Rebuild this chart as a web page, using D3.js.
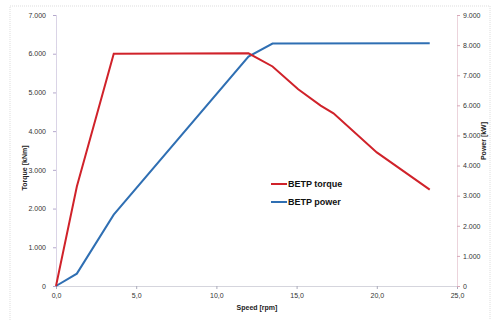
<!DOCTYPE html>
<html><head><meta charset="utf-8">
<script src="https://cdn.jsdelivr.net/npm/d3@7"></script>
<style>
body{margin:0;background:#fff;}
svg{display:block;font-family:"Liberation Sans",Arial,sans-serif;}
</style></head>
<body><svg id="c" width="493" height="320"></svg>
<script>
const torqueSpeed = [0, 1.3, 3.6, 12.0, 13.5, 15.1, 16.5, 17.3, 20.0, 23.3];
const torqueValues = [0, 2570, 6000, 6010, 5670, 5080, 4660, 4460, 3450, 2490];
const powerSpeed = [0, 1.3, 3.6, 12.0, 13.5, 23.3];
const powerValues = [0, 410, 2370, 7620, 8050, 8060];
const xTicks = [0, 5, 10, 15, 20, 25];
const leftTicks = [0, 1000, 2000, 3000, 4000, 5000, 6000, 7000];
const rightTicks = [0, 1000, 2000, 3000, 4000, 5000, 6000, 7000, 8000, 9000];
const seriesNames = ["BETP torque", "BETP power"];
const colors = ["#d0222a", "#2f6fb3"];

const svg = d3.select("#c");
const x = d3.scaleLinear().domain([0, 25]).range([56, 457]);
const yL = d3.scaleLinear().domain([0, 7000]).range([286, 15]);
const yR = d3.scaleLinear().domain([0, 9000]).range([286, 15]);

// faint outer border
svg.append("rect").attr("x", 10).attr("y", 6).attr("width", 480).attr("height", 330)
  .attr("fill", "none").attr("stroke", "#ddd").attr("stroke-dasharray", "1,1");

const fmtK = v => v === 0 ? "0" : d3.format(",")(v).replace(/,/g, ".");
const fmtX = v => d3.format(".1f")(v).replace(".", ",");

function styleAxis(g, col) {
  g.select(".domain").attr("stroke", col).attr("stroke-dasharray", "1,1");
  g.selectAll(".tick line").attr("stroke", col);
  g.selectAll(".tick text").attr("fill", "#333").style("font-size", "7px");
}

const gx = svg.append("g").attr("transform", "translate(0,286)")
  .call(d3.axisBottom(x).tickValues(xTicks).tickFormat(fmtX).tickSize(3).tickSizeOuter(0));
styleAxis(gx, "#aab");
gx.selectAll(".tick text").attr("dy", "0.9em");

const gl = svg.append("g").attr("transform", "translate(56,0)")
  .call(d3.axisLeft(yL).tickValues(leftTicks).tickFormat(fmtK).tickSize(3).tickSizeOuter(0));
styleAxis(gl, "#b4a8cc");
gl.selectAll(".tick text").attr("x", -10);

const gr = svg.append("g").attr("transform", "translate(457,0)")
  .call(d3.axisRight(yR).tickValues(rightTicks).tickFormat(fmtK).tickSize(3).tickSizeOuter(0));
styleAxis(gr, "#d8a8b8");
gr.selectAll(".tick text").attr("x", 6);

// axis titles
svg.append("text").attr("x", 257).attr("y", 310).attr("text-anchor", "middle")
  .style("font-size", "7px").style("font-weight", "bold").attr("fill", "#222").text("Speed [rpm]");
svg.append("text").attr("transform", "translate(27,168) rotate(-90)").attr("text-anchor", "middle")
  .style("font-size", "7px").style("font-weight", "bold").attr("fill", "#222").text("Torque [kNm]");
svg.append("text").attr("transform", "translate(486,141) rotate(-90)").attr("text-anchor", "middle")
  .style("font-size", "7px").style("font-weight", "bold").attr("fill", "#222").text("Power [kW]");

// lines
const lineL = d3.line().x(d => x(d[0])).y(d => yL(d[1]));
const lineR = d3.line().x(d => x(d[0])).y(d => yR(d[1]));
svg.append("path").datum(powerSpeed.map((s, i) => [s, powerValues[i]]))
  .attr("d", lineR).attr("fill", "none").attr("stroke", colors[1]).attr("stroke-width", 2);
svg.append("path").datum(torqueSpeed.map((s, i) => [s, torqueValues[i]]))
  .attr("d", lineL).attr("fill", "none").attr("stroke", colors[0]).attr("stroke-width", 2);

// legend
seriesNames.forEach((n, i) => {
  const yy = 184 + i * 18;
  svg.append("line").attr("x1", 271).attr("x2", 287).attr("y1", yy).attr("y2", yy)
    .attr("stroke", colors[i]).attr("stroke-width", 2);
  svg.append("text").attr("x", 288).attr("y", yy).attr("dy", "0.35em")
    .style("font-size", "9px").style("font-weight", "bold").attr("fill", "#111").text(n);
});
</script></body></html>
